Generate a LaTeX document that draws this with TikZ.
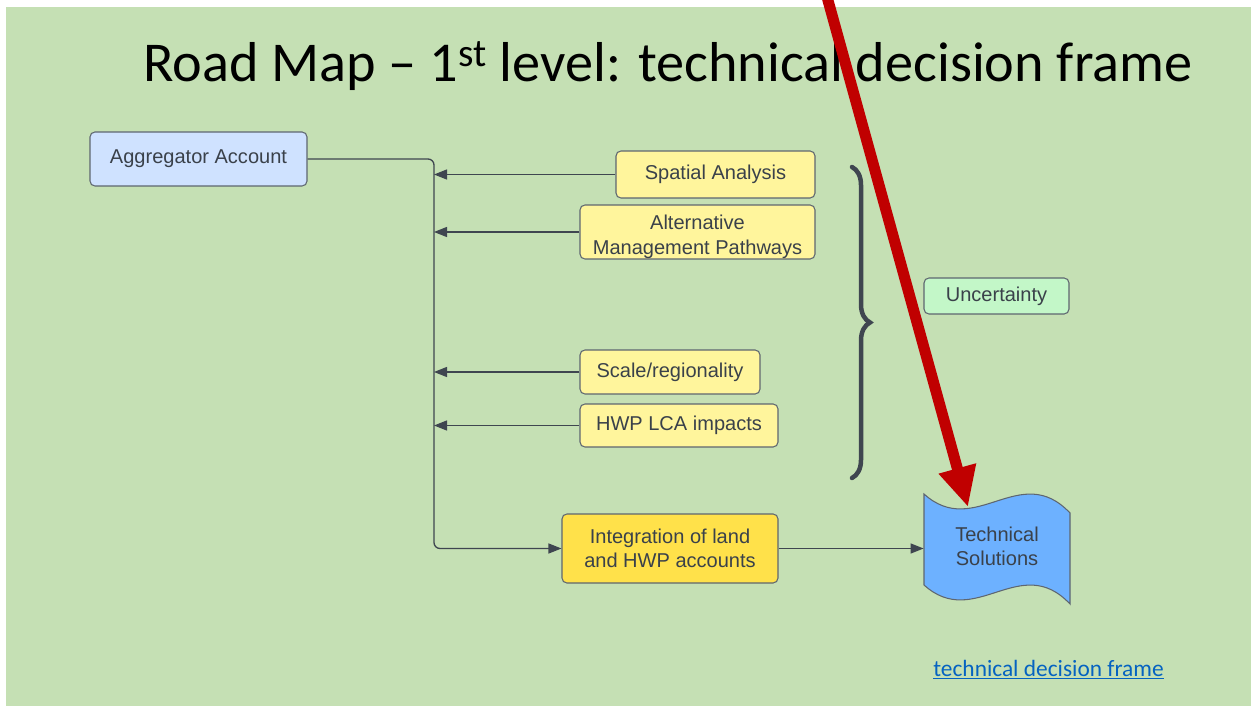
\documentclass[tikz,border=0pt]{standalone}
\usepackage{fontspec}
\setmainfont{Liberation Sans}
\newfontfamily\calibri{Carlito}
\usepackage{xcolor}
\usetikzlibrary{shapes,arrows.meta,positioning,decorations.pathreplacing}

\definecolor{slidegreen}{HTML}{C5E0B4}
\definecolor{boxline}{HTML}{5E6670}
\definecolor{boxtext}{HTML}{3A414A}
\definecolor{wire}{HTML}{3F4650}
\definecolor{aggblue}{HTML}{CFE2FF}
\definecolor{paleyellow}{HTML}{FFF59C}
\definecolor{deepyellow}{HTML}{FFE14A}
\definecolor{mint}{HTML}{C3F7C8}
\definecolor{solblue}{HTML}{6DB1FF}
\definecolor{alertred}{HTML}{C00000}
\definecolor{linkblue}{HTML}{0563C1}

\begin{document}
\begin{tikzpicture}[
    box/.style={rectangle, rounded corners=2.8pt, draw=boxline, line width=0.6pt, text=boxtext, align=center, inner sep=0pt, font=\fontsize{11.4}{13.7}\selectfont},
    conn/.style={draw=wire, line width=0.75pt, -{Triangle[length=0.26cm,width=0.2cm]}}
]
    \useasboundingbox (0,0) rectangle (25.02,-14.12);
    \fill[white] (0,0) rectangle (25.02,-14.12);
    \fill[slidegreen] (0.12,-0.14) rectangle (25.02,-14.12);

    % Title
    \node[anchor=base west, inner sep=0pt, font=\calibri\fontsize{32}{38}\selectfont] (title) at (2.86,-1.64)
        {Road Map – 1\textsuperscript{st} level: technical decision frame};

    % Source account
    \node[box, fill=aggblue, minimum width=4.34cm, minimum height=1.08cm] (agg) at (3.97,-3.18) {Aggregator Account};

    % Inputs
    \node[box, fill=paleyellow, minimum width=3.98cm, minimum height=0.94cm] (spatial) at (14.31,-3.49) {Spatial Analysis};
    \node[box, fill=paleyellow, minimum width=4.70cm, minimum height=1.08cm] (altman) at (13.95,-4.64)
        {\raisebox{-0.2cm}[0.5cm][0.5cm]{\begin{tabular}{@{}c@{}}Alternative\\Management Pathways\end{tabular}}};
    \node[box, fill=paleyellow, minimum width=3.60cm, minimum height=0.88cm] (scale) at (13.40,-7.44) {Scale/regionality};
    \node[box, fill=paleyellow, minimum width=3.96cm, minimum height=0.86cm] (hwp) at (13.58,-8.51) {HWP LCA impacts};

    % Integration
    \node[box, fill=deepyellow, minimum width=4.32cm, minimum height=1.38cm] (integ) at (13.40,-10.97) {Integration of land\\and HWP accounts};

    % Uncertainty
    \node[box, fill=mint, minimum width=2.90cm, minimum height=0.72cm] (uncert) at (19.93,-5.92) {Uncertainty};
    \draw[decorate, decoration={brace, amplitude=0.36cm}, line width=0.09cm, draw=wire, line cap=round]
        (17.04,-3.34) -- (17.04,-9.56);

    % Result
    \fill[solblue, draw=boxline, line width=0.6pt]
        (18.48,-9.88) .. controls (19.50,-10.80) and (20.40,-9.20) .. (21.40,-10.26)
        -- (21.40,-12.08)
        .. controls (20.40,-11.02) and (19.50,-12.62) .. (18.48,-11.70) -- cycle;
    \node[text=boxtext, align=center, inner sep=0pt, minimum width=2.92cm, minimum height=1.6cm,
        font=\fontsize{11.4}{13.7}\selectfont] (tech) at (19.94,-10.92) {Technical\\Solutions};

    % Connectors
    \coordinate (bustop) at (8.68,-3.18);
    \coordinate (busbot) at (bustop |- integ.west);
    \draw[conn, rounded corners=0.12cm] (agg.east) -- (bustop) -- (busbot) -- (integ.west);
    \draw[conn] (spatial.west) -- (spatial.west -| bustop);
    \draw[conn] (altman.west) -- (altman.west -| bustop);
    \draw[conn] (scale.west) -- (scale.west -| bustop);
    \draw[conn] (hwp.west) -- (hwp.west -| bustop);
    \draw[conn] (integ.east) -- (integ.east -| tech.west);

    % Pointer
    \coordinate (pointer) at (16.53,0.1);
    \coordinate (techtop) at (19.36,-10.14);
    \draw[draw=alertred, line width=0.22cm, -{Triangle[length=0.8cm,width=0.72cm]}] (pointer) -- (techtop);

    % Link
    \node[anchor=base west, inner sep=0pt, text=linkblue, font=\calibri\fontsize{13.3}{16}\selectfont] (link) at (18.66,-13.52)
        {\underline{technical decision frame}};
\end{tikzpicture}
\end{document}
